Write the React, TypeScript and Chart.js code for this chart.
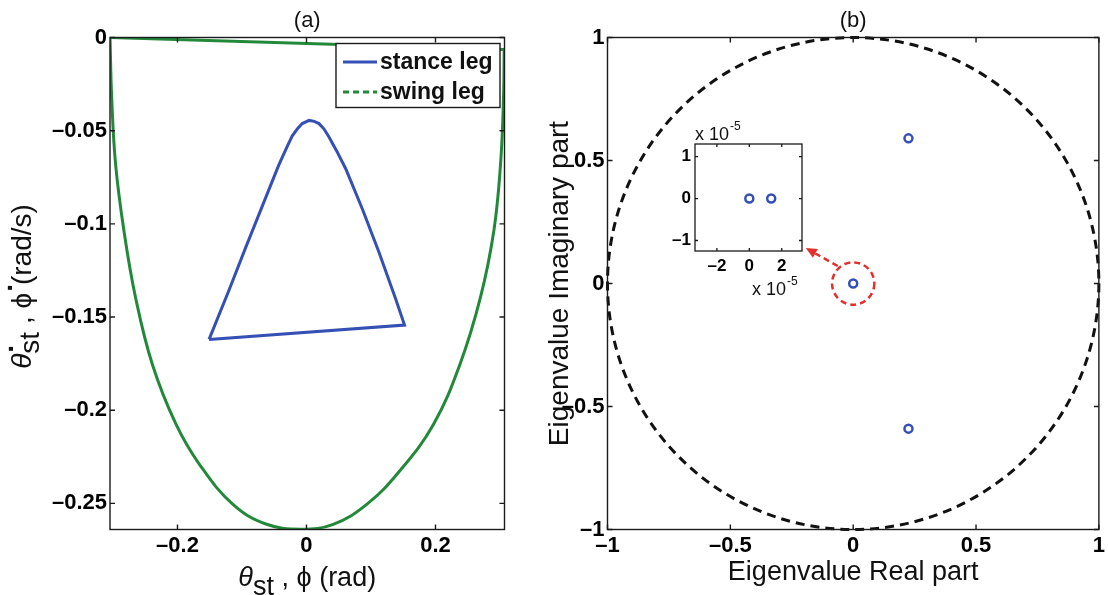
import React, { useEffect, useRef } from "react";
import { Chart, registerables } from "chart.js";

Chart.register(...registerables);

const FONT = "'Liberation Sans', Arial, Helvetica, 'DejaVu Sans', sans-serif";
const BLUE = "#3550b4";
const GREEN = "#23893a";
const RED = "#e3302b";
const AXIS = "#1a1a1a";

// ---------------- Panel (a): phase portrait ----------------
const seriesNames = ["stance leg", "swing leg"];
const stanceX = [-0.151, -0.12, -0.094, -0.0685, -0.043, -0.03, -0.022, -0.014, -0.0065, 0.004, 0.012, 0.0194, 0.027, 0.0349, 0.047, 0.0608, 0.0865, 0.1124, 0.1383, 0.152, -0.151];
const stanceY = [-0.162, -0.1355, -0.1125, -0.0905, -0.0685, -0.0585, -0.0528, -0.049, -0.0462, -0.0445, -0.045, -0.0462, -0.049, -0.0534, -0.061, -0.0704, -0.0919, -0.1152, -0.1403, -0.1543, -0.162];
const swingX = [0.3065, 0.3055, 0.3009, 0.2905, 0.2697, 0.238, 0.197, 0.1445, 0.0934, 0.0414, -0.008, -0.0618, -0.114, -0.166, -0.2023, -0.239, -0.265, -0.283, -0.296, -0.302, -0.3046];
const swingY = [-0.0065, -0.032, -0.0678, -0.1037, -0.1395, -0.1753, -0.2075, -0.2326, -0.2505, -0.2612, -0.2638, -0.2612, -0.2505, -0.229, -0.2075, -0.1753, -0.1395, -0.1037, -0.0678, -0.032, 0];
const aXTicks = [-0.2, 0, 0.2];
const aYTicks = [0, -0.05, -0.1, -0.15, -0.2, -0.25];
const aXMin = -0.3046;
const aXMax = 0.307;
const aYMin = -0.264;
const aYMax = 0;

// ---------------- Panel (b): eigenvalues ----------------
const eigRe = [0.225, 0.225, 0];
const eigIm = [0.59, -0.59, 0];
const bTicks = [-1, -0.5, 0, 0.5, 1];
const unitRadius = 1;
const zoomRadius = 0.086;
const arrowFrom = [-0.063, 0.071];
const arrowTo = [-0.193, 0.144];

// ---------------- Inset ----------------
const insetRe = [0, 1.35e-5];
const insetIm = [0, 0];
const insetXTicks = [-2e-5, 0, 2e-5];
const insetYTicks = [-1e-5, 0, 1e-5];
const insetScale = 1e-5;
const insetExp = "-5";

const R = (px: number) => `${px}px ${FONT}`;
const B = (px: number) => `bold ${px}px ${FONT}`;
const I = (px: number) => `italic ${px}px ${FONT}`;

type Seg = { t: string; font: string; dy?: number; dx?: number; adv?: boolean };

function drawSegs(ctx: CanvasRenderingContext2D, segs: Seg[], cx: number, cy: number, rotate: boolean, align = "center") {
  ctx.save();
  ctx.translate(cx, cy);
  if (rotate) ctx.rotate(-Math.PI / 2);
  ctx.textBaseline = "alphabetic";
  ctx.textAlign = "left";
  ctx.fillStyle = "#111";
  let total = 0;
  segs.forEach((s) => {
    ctx.font = s.font;
    if (s.adv !== false) total += ctx.measureText(s.t).width + (s.dx || 0);
  });
  let x = align === "center" ? -total / 2 : 0;
  segs.forEach((s) => {
    ctx.font = s.font;
    const w = ctx.measureText(s.t).width;
    ctx.fillText(s.t, x + (s.dx || 0), s.dy || 0);
    if (s.adv !== false) x += w + (s.dx || 0);
  });
  ctx.restore();
}

const fmtTick = (v: number) => {
  const s = String(Math.abs(Math.round(v * 1e6) / 1e6));
  return v < 0 ? "\u2013" + s : s;
};
const fmtInset = (v: number) => {
  const n = Math.round(v / insetScale);
  return n < 0 ? "\u2013" + Math.abs(n) : String(n);
};

function axisOpts(min: number, max: number, ticks: number[], fmt: (v: number) => string, fontSize: number, pad: number, fit: number, horizontal: boolean) {
  return {
    type: "linear",
    min,
    max,
    grid: { display: false, drawTicks: false },
    border: { display: false },
    ticks: {
      autoSkip: false,
      maxRotation: 0,
      padding: pad,
      color: "#000",
      font: { family: FONT, size: fontSize, weight: "bold" },
      callback: (v: any) => fmt(Number(v)),
    },
    afterBuildTicks: (axis: any) => {
      axis.ticks = ticks.map((v) => ({ value: v }));
    },
    afterFit: (axis: any) => {
      if (horizontal) axis.height = fit;
      else axis.width = fit;
    },
  };
}

const boxPlugin = (tickLen: number, lw: number) => ({
  id: "box",
  beforeDatasetsDraw(chart: any) {
    const { ctx, chartArea: a } = chart;
    ctx.save();
    ctx.fillStyle = "#fff";
    ctx.fillRect(a.left, a.top, a.right - a.left, a.bottom - a.top);
    ctx.restore();
  },
  afterDatasetsDraw(chart: any) {
    const { ctx, chartArea: a, scales } = chart;
    ctx.save();
    ctx.strokeStyle = AXIS;
    ctx.lineWidth = lw;
    ctx.setLineDash([]);
    ctx.beginPath();
    scales.x.ticks.forEach((t: any) => {
      const p = scales.x.getPixelForValue(t.value);
      ctx.moveTo(p, a.bottom);
      ctx.lineTo(p, a.bottom - tickLen);
      ctx.moveTo(p, a.top);
      ctx.lineTo(p, a.top + tickLen);
    });
    scales.y.ticks.forEach((t: any) => {
      const p = scales.y.getPixelForValue(t.value);
      ctx.moveTo(a.left, p);
      ctx.lineTo(a.left + tickLen, p);
      ctx.moveTo(a.right, p);
      ctx.lineTo(a.right - tickLen, p);
    });
    ctx.stroke();
    ctx.strokeRect(a.left, a.top, a.right - a.left, a.bottom - a.top);
    ctx.restore();
  },
});

const pts = (xs: number[], ys: number[]) => xs.map((x, i) => ({ x, y: ys[i] }));

const baseOptions = {
  animation: false,
  responsive: false,
  maintainAspectRatio: false,
  events: [],
  plugins: { legend: { display: false }, tooltip: { enabled: false }, title: { display: false } },
};

export default function App() {
  const aRef = useRef<HTMLCanvasElement>(null);
  const bRef = useRef<HTMLCanvasElement>(null);
  const iRef = useRef<HTMLCanvasElement>(null);

  useEffect(() => {
    const charts: Chart[] = [];

    // ---------- (a) ----------
    const aText = {
      id: "aText",
      afterDraw(chart: any) {
        const { ctx, chartArea: a } = chart;
        const cx = (a.left + a.right) / 2;
        drawSegs(ctx, [{ t: "(a)", font: R(22) }], cx, 27, false);
        drawSegs(ctx, [
          { t: "θ", font: I(27) },
          { t: "st", font: R(27), dy: 9 },
          { t: " , ϕ (rad)", font: R(27) },
        ], cx, 586, false);
        drawSegs(ctx, [
          { t: "θ", font: I(28) },
          { t: ".", font: B(28), dy: -18, dx: 1, adv: false },
          { t: "st", font: R(28), dy: 8 },
          { t: " , ϕ", font: R(28) },
          { t: ".", font: B(28), dy: -19, dx: 1, adv: false },
          { t: " (rad/s)", font: R(28) },
        ], 31, (a.top + a.bottom) / 2 + 3, true);
        // legend
        const w = 164, h = 64;
        const lx = a.right - 4.5 - w;
        const ly = a.top + 6;
        ctx.save();
        ctx.fillStyle = "#fff";
        ctx.fillRect(lx, ly, w, h);
        ctx.strokeStyle = AXIS;
        ctx.lineWidth = 1.4;
        ctx.strokeRect(lx, ly, w, h);
        const colors = [BLUE, GREEN];
        const dashes = [[], [6, 4]];
        seriesNames.forEach((name, i) => {
          const yy = ly + 18.5 + i * 30;
          ctx.strokeStyle = colors[i];
          ctx.lineWidth = 3;
          ctx.setLineDash(dashes[i]);
          ctx.beginPath();
          ctx.moveTo(lx + 7, yy);
          ctx.lineTo(lx + 41, yy);
          ctx.stroke();
          ctx.setLineDash([]);
          ctx.fillStyle = "#111";
          ctx.font = B(23);
          ctx.textBaseline = "middle";
          ctx.textAlign = "left";
          ctx.fillText(name, lx + 44, yy + 1);
        });
        ctx.restore();
      },
    };
    const swingPts = pts(swingX, swingY);
    charts.push(
      new Chart(aRef.current as HTMLCanvasElement, {
        type: "scatter",
        data: {
          datasets: [
            { label: seriesNames[0], data: pts(stanceX, stanceY), showLine: true, borderColor: BLUE, borderWidth: 3, pointRadius: 0, tension: 0 },
            { label: seriesNames[1], data: swingPts, showLine: true, borderColor: GREEN, borderWidth: 3, pointRadius: 0, tension: 0.4 },
            { label: seriesNames[1], data: [swingPts[swingPts.length - 1], swingPts[0]], showLine: true, borderColor: GREEN, borderWidth: 3, pointRadius: 0, tension: 0 },
          ],
        },
        options: {
          ...baseOptions,
          layout: { padding: { top: 37.5, right: 49.5, left: 0, bottom: 0 } },
          scales: {
            x: axisOpts(aXMin, aXMax, aXTicks, fmtTick, 22, 3, 65.5, true),
            y: axisOpts(aYMin, aYMax, aYTicks, fmtTick, 22, 3, 110, false),
          },
        } as any,
        plugins: [boxPlugin(5, 1.4), aText] as any,
      })
    );

    // ---------- (b) ----------
    const bText = {
      id: "bText",
      beforeDatasetsDraw(chart: any) {
        const { ctx, scales } = chart;
        const x0 = scales.x.getPixelForValue(0);
        const y0 = scales.y.getPixelForValue(0);
        const rx = scales.x.getPixelForValue(unitRadius) - x0;
        const ry = y0 - scales.y.getPixelForValue(unitRadius);
        ctx.save();
        ctx.strokeStyle = "#111";
        ctx.lineWidth = 3;
        ctx.setLineDash([9, 6]);
        ctx.beginPath();
        ctx.ellipse(x0, y0, rx, ry, 0, 0, Math.PI * 2);
        ctx.stroke();
        ctx.restore();
      },
      afterDraw(chart: any) {
        const { ctx, chartArea: a, scales } = chart;
        const cx = (a.left + a.right) / 2;
        drawSegs(ctx, [{ t: "(b)", font: R(22) }], cx, 27, false);
        drawSegs(ctx, [{ t: "Eigenvalue Real part", font: R(27) }], cx, 580, false);
        drawSegs(ctx, [{ t: "Eigenvalue Imaginary part", font: R(28) }], a.left - 39.5, (a.top + a.bottom) / 2, true);
        // zoom circle and arrow
        const x0 = scales.x.getPixelForValue(0);
        const y0 = scales.y.getPixelForValue(0);
        const r = scales.x.getPixelForValue(zoomRadius) - x0;
        ctx.save();
        ctx.strokeStyle = RED;
        ctx.fillStyle = RED;
        ctx.lineWidth = 2.5;
        ctx.setLineDash([6, 4]);
        ctx.beginPath();
        ctx.arc(x0, y0, r, 0, Math.PI * 2);
        ctx.stroke();
        const sx = scales.x.getPixelForValue(arrowFrom[0]);
        const sy = scales.y.getPixelForValue(arrowFrom[1]);
        const tx = scales.x.getPixelForValue(arrowTo[0]);
        const ty = scales.y.getPixelForValue(arrowTo[1]);
        const ang = Math.atan2(ty - sy, tx - sx);
        const hl = 11, hw = 5;
        const bx = tx - hl * Math.cos(ang), by = ty - hl * Math.sin(ang);
        ctx.beginPath();
        ctx.moveTo(sx, sy);
        ctx.lineTo(bx, by);
        ctx.stroke();
        ctx.setLineDash([]);
        ctx.beginPath();
        ctx.moveTo(tx, ty);
        ctx.lineTo(bx - hw * Math.sin(ang), by + hw * Math.cos(ang));
        ctx.lineTo(bx + hw * Math.sin(ang), by - hw * Math.cos(ang));
        ctx.closePath();
        ctx.fill();
        ctx.restore();
      },
    };
    charts.push(
      new Chart(bRef.current as HTMLCanvasElement, {
        type: "scatter",
        data: {
          datasets: [
            { label: "eigenvalues", data: pts(eigRe, eigIm), pointRadius: 4, pointBorderWidth: 2.5, pointBorderColor: BLUE, pointBackgroundColor: "rgba(255,255,255,0)", showLine: false },
          ],
        },
        options: {
          ...baseOptions,
          layout: { padding: { top: 37.5, right: 9, left: 0, bottom: 0 } },
          scales: {
            x: axisOpts(-1, 1, bTicks, fmtTick, 22, 3, 65.5, true),
            y: axisOpts(-1, 1, bTicks, fmtTick, 22, 3, 77.5, false),
          },
        } as any,
        plugins: [boxPlugin(5, 1.4), bText] as any,
      })
    );

    // ---------- inset ----------
    const iText = {
      id: "iText",
      afterDraw(chart: any) {
        const { ctx, chartArea: a } = chart;
        drawSegs(ctx, [
          { t: "x 10", font: R(18) },
          { t: insetExp, font: R(12), dy: -10, dx: 1 },
        ], a.left, a.top - 4, false, "left");
        drawSegs(ctx, [
          { t: "x 10", font: R(18) },
          { t: insetExp, font: R(12), dy: -10, dx: 1 },
        ], a.right - 50, 185, false, "left");
      },
    };
    charts.push(
      new Chart(iRef.current as HTMLCanvasElement, {
        type: "scatter",
        data: {
          datasets: [
            { label: "zoom", data: pts(insetRe, insetIm), pointRadius: 4, pointBorderWidth: 2.5, pointBorderColor: BLUE, pointBackgroundColor: "rgba(255,255,255,0)", showLine: false },
          ],
        },
        options: {
          ...baseOptions,
          layout: { padding: { top: 34, right: 38, left: 0, bottom: 0 } },
          scales: {
            x: axisOpts(-3.35e-5, 3.25e-5, insetXTicks, fmtInset, 17, 5, 59, true),
            y: axisOpts(-1.25e-5, 1.3e-5, insetYTicks, fmtInset, 17, 4, 55, false),
          },
        } as any,
        plugins: [boxPlugin(3, 1.3), iText] as any,
      })
    );

    return () => charts.forEach((c) => c.destroy());
  }, []);

  return (
    <div style={{ position: "absolute", left: 0, top: 0, width: 1108, height: 595, background: "#fff", overflow: "hidden" }}>
      <canvas ref={aRef} width={554} height={595} style={{ position: "absolute", left: 0, top: 0 }} />
      <canvas ref={bRef} width={578} height={595} style={{ position: "absolute", left: 530, top: 0 }} />
      <canvas ref={iRef} width={200} height={200} style={{ position: "absolute", left: 640, top: 110 }} />
    </div>
  );
}
